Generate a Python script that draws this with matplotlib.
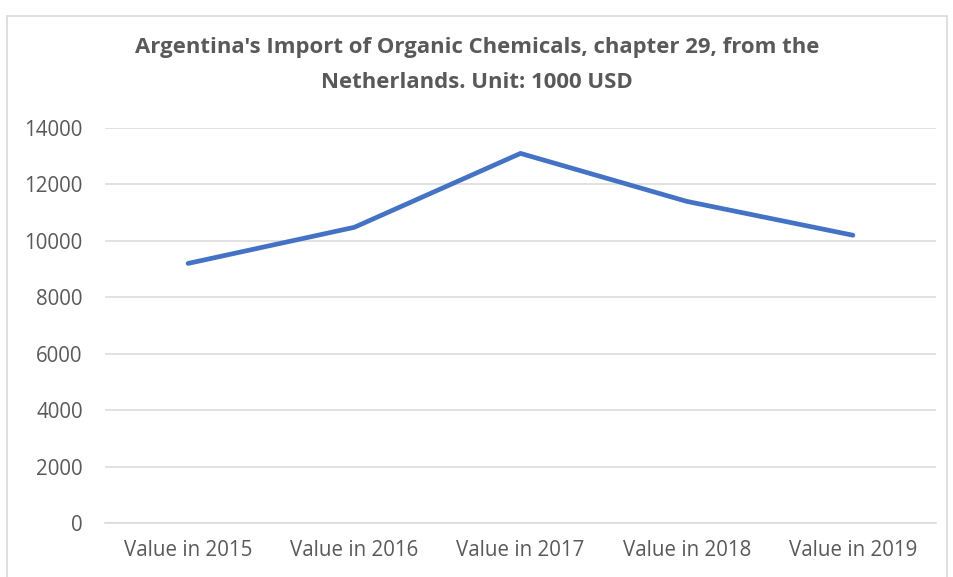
import matplotlib.pyplot as plt
from matplotlib.patches import Rectangle

# Data
categories = ['Value in 2015', 'Value in 2016', 'Value in 2017', 'Value in 2018', 'Value in 2019']
values = [9200, 10480, 13100, 11400, 10200]
y_ticks = [0, 2000, 4000, 6000, 8000, 10000, 12000, 14000]

plt.rcParams['font.family'] = ['Open Sans', 'DejaVu Sans']
text_color = '#595959'

fig = plt.figure(figsize=(9.54, 5.77), dpi=100)
ax = fig.add_axes([105 / 954, 1 - 523 / 577, (936 - 105) / 954, (523 - 128) / 577])

positions = range(len(categories))
ax.plot(positions, values, color='#4472C4', linewidth=3.4, solid_capstyle='round', zorder=3)

ax.set_xlim(-0.5, len(categories) - 0.5)
ax.set_ylim(0, 14000)
ax.set_yticks(y_ticks)
ax.set_yticklabels([str(t) for t in y_ticks])
ax.set_xticks(list(positions))
ax.set_xticklabels(categories)
ax.grid(axis='y', color='#D9D9D9', linewidth=1.1)
ax.set_axisbelow(True)
for side in ['top', 'right', 'left']:
    ax.spines[side].set_visible(False)
ax.spines['bottom'].set_color('#D9D9D9')
ax.spines['bottom'].set_linewidth(1.1)
ax.tick_params(axis='both', length=0, labelsize=14.8, colors=text_color)
ax.tick_params(axis='y', pad=16)
ax.tick_params(axis='x', pad=12)

fig.text(0.5, 1 - 47 / 577, "Argentina's Import of Organic Chemicals, chapter 29, from the",
         ha='center', va='center', fontsize=15.9, fontweight='bold', color=text_color)
fig.text(0.5, 1 - 82 / 577, "Netherlands. Unit: 1000 USD",
         ha='center', va='center', fontsize=15.9, fontweight='bold', color=text_color)

# light chart border
fig.patches.append(Rectangle((7 / 954, -0.01), (947 - 7) / 954, 1 - 16 / 577 + 0.01,
                             transform=fig.transFigure, fill=False,
                             edgecolor='#D9D9D9', linewidth=1.2))

plt.savefig('out.png', dpi=100)
